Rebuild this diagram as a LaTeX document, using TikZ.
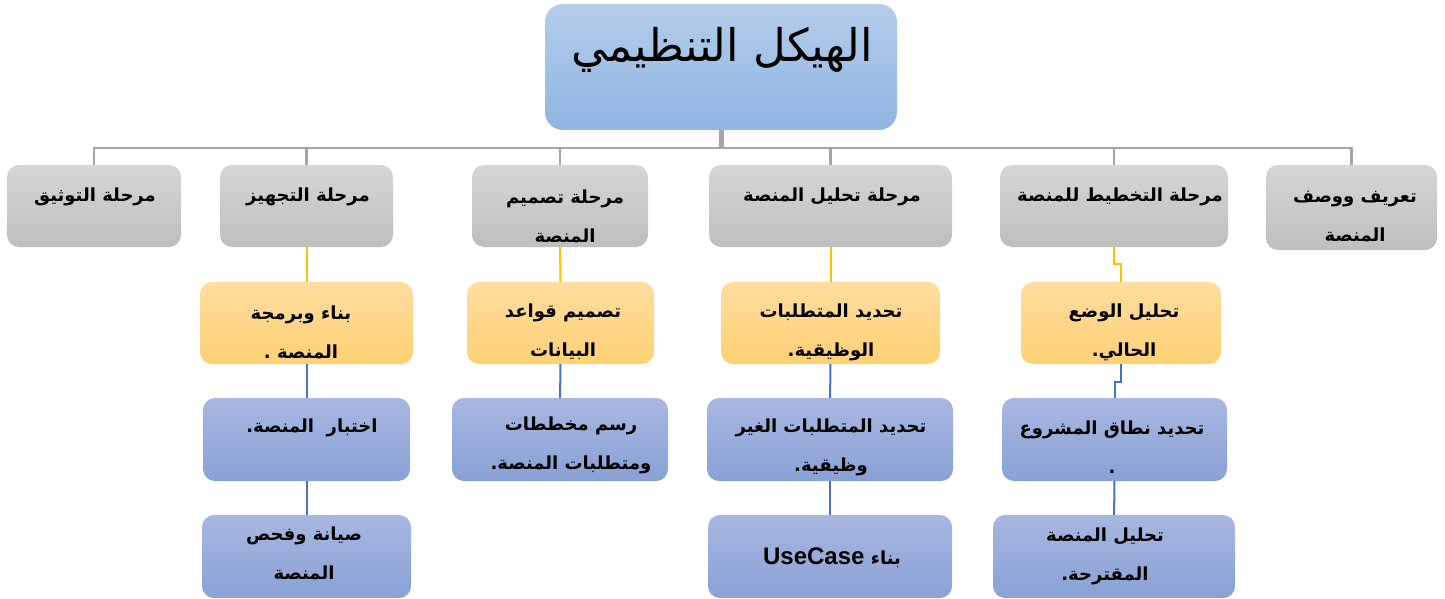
\documentclass[tikz,border=0pt]{standalone}
\usepackage{fontspec}
\newfontfamily\arabicfont[Script=Arabic]{DejaVu Sans}
\newfontfamily\latinfont[BoldFont={Liberation Sans Bold}]{Liberation Sans}
\TeXXeTstate=1

\definecolor{rootTop}{RGB}{180,205,234}
\definecolor{rootBot}{RGB}{142,181,227}
\definecolor{grayTop}{RGB}{214,214,214}
\definecolor{grayBot}{RGB}{190,190,190}
\definecolor{orangeTop}{RGB}{255,221,160}
\definecolor{orangeBot}{RGB}{255,209,116}
\definecolor{blueTop}{RGB}{168,183,224}
\definecolor{blueBot}{RGB}{137,161,214}
\definecolor{lineGray}{RGB}{165,165,165}
\definecolor{lineGold}{RGB}{255,192,0}
\definecolor{lineBlue}{RGB}{68,114,196}

\tikzset{
  box/.style={rounded corners=12pt, minimum height=82pt, inner sep=0pt},
  rootbox/.style={box, top color=rootTop, bottom color=rootBot, rounded corners=18pt},
  phase/.style={box, top color=grayTop, bottom color=grayBot},
  task/.style={box, top color=orangeTop, bottom color=orangeBot},
  subtask/.style={box, top color=blueTop, bottom color=blueBot},
  txt/.style={font=\arabicfont\bfseries\fontsize{18pt}{39pt}\selectfont, align=center, inner sep=0pt},
  gline/.style={draw=lineGray, line width=2.5pt},
  yline/.style={draw=lineGold, line width=2pt},
  bline/.style={draw=lineBlue, line width=2pt}
}

\begin{document}
\begin{tikzpicture}[x=1pt, y=-1pt]
    \useasboundingbox (0,0) rectangle (1445,599);

    % root
    \node[rootbox, minimum width=352pt, minimum height=126pt] (root) at (721,67) {};
    \node[font=\arabicfont\fontsize{45pt}{50pt}\selectfont] (title) at (722,50) {\beginR الهيكل التنظيمي\endR};

    % phases
    \node[phase, minimum width=174pt] (b1) at (94,206) {};
    \node[phase, minimum width=173pt] (b2) at (306.5,206) {};
    \node[phase, minimum width=176pt] (b3) at (560,206) {};
    \node[phase, minimum width=243pt] (b4) at (830.5,206) {};
    \node[phase, minimum width=228pt] (b5) at (1114,206) {};
    \node[phase, minimum width=171pt, minimum height=85pt] (b6) at (1351.5,207.5) {};

    \node[txt] (b1t) at (95,197) {\beginR مرحلة التوثيق\endR};
    \node[txt] (b2t) at (308,197) {\beginR مرحلة التجهيز\endR};
    \node[txt] (b3t) at (565,216) {\beginR مرحلة تصميم\endR\\ \beginR المنصة\endR};
    \node[txt] (b4t) at (832,197) {\beginR مرحلة تحليل المنصة\endR};
    \node[txt] (b5t) at (1120,197) {\beginR مرحلة التخطيط للمنصة\endR};
    \node[txt] (b6t) at (1355,216.5) {\beginR تعريف ووصف\endR\\ \beginR المنصة\endR};

    % tasks
    \node[task, minimum width=213pt] (a) at (306.5,323) {};
    \node[task, minimum width=187pt] (b) at (560.5,323) {};
    \node[task, minimum width=219pt] (f) at (830.5,323) {};
    \node[task, minimum width=200pt] (g) at (1121,323) {};

    \node[txt] (at) at (301,332) {\beginR بناء وبرمجة\endR\\ \beginR المنصة .\endR};
    \node[txt] (bt) at (563,332) {\beginR تصميم قواعد\endR\\ \beginR البيانات\endR};
    \node[txt] (ft) at (831,332) {\beginR تحديد المتطلبات\endR\\ \beginR الوظيقية.\endR};
    \node[txt] (gt) at (1124,332) {\beginR تحليل الوضع\endR\\ \beginR الحالي.\endR};

    % sub tasks
    \node[subtask, minimum width=207pt, minimum height=83pt] (c) at (306.5,439.5) {};
    \node[subtask, minimum width=216pt, minimum height=83pt] (d) at (560,439.5) {};
    \node[subtask, minimum width=246pt, minimum height=83pt] (j) at (830,439.5) {};
    \node[subtask, minimum width=225pt, minimum height=83pt] (h) at (1114.5,439.5) {};
    \node[subtask, minimum width=209pt, minimum height=83pt] (e) at (306.5,556.5) {};
    \node[subtask, minimum width=244pt, minimum height=83pt] (k) at (830,556.5) {};
    \node[subtask, minimum width=242pt, minimum height=83pt] (i) at (1114,556.5) {};

    \node[txt] (ct) at (312,428) {\beginR اختبار\ \ المنصة.\endR};
    \node[txt] (dt) at (571,445.5) {\beginR رسم مخططات\endR\\ \beginR ومتطلبات المنصة.\endR};
    \node[txt] (jt) at (831,447) {\beginR تحديد المتطلبات الغير\endR\\ \beginR وظيقية.\endR};
    \node[txt] (ht) at (1112,447) {\beginR تحديد نطاق المشروع\endR\\ \beginR .\endR};
    \node[txt] (et) at (304,553.5) {\beginR صيانة وفحص\endR\\ \beginR المنصة\endR};
    \node[txt] (kt) at (832,558) {\beginR بناء \beginL{\latinfont\bfseries\fontsize{24pt}{28pt}\selectfont UseCase}\endL\endR};
    \node[txt] (it) at (1105,556) {\beginR تحليل المنصة\endR\\ \beginR المقترحة.\endR};

    % connectors
    \coordinate (bus) at (721,148);
    \draw[gline, line width=5pt] (root.south) -- (bus);
    \foreach \n in {b1,b2,b3,b4,b5,b6}
        \draw[gline] (bus) -| (\n.north);

    \draw[yline] (b2) -- (a);
    \draw[yline] (b3) -- (b);
    \draw[yline] (b4) -- (f);
    \draw[yline] (b5.south) -- ++(0,17) -| (g.north);

    \draw[bline] (a) -- (c);
    \draw[bline] (c) -- (e);
    \draw[bline] (b) -- (d);
    \draw[bline] (f) -- (j);
    \draw[bline] (j) -- (k);
    \draw[bline] (g.south) -- ++(0,18) -| (h.north);
    \draw[bline] (h) -- (i);
\end{tikzpicture}
\end{document}
